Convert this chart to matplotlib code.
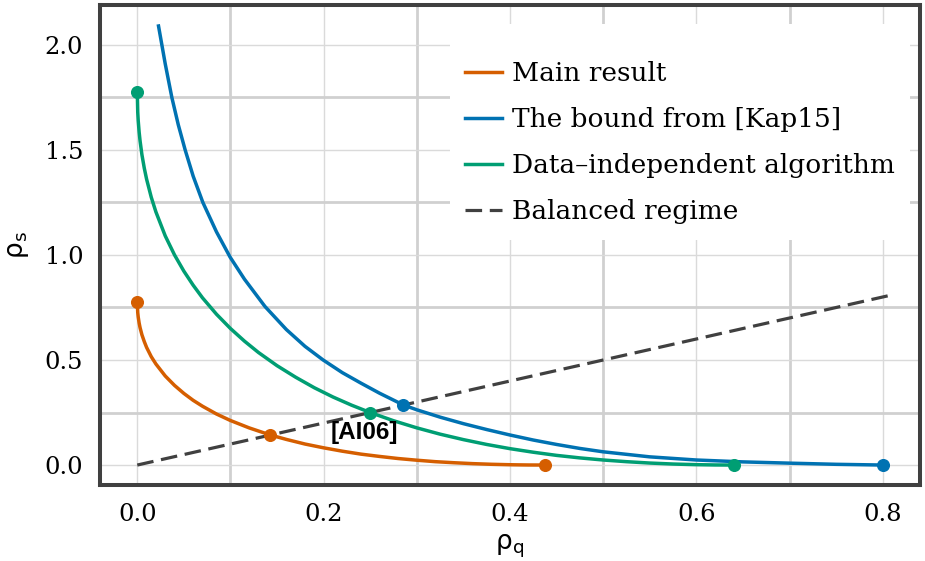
import matplotlib
matplotlib.use("Agg")
import matplotlib.pyplot as plt
from matplotlib.ticker import MultipleLocator

# values
main_q = [0.0, 0.0005, 0.001, 0.002, 0.003, 0.005, 0.0075, 0.01, 0.015, 0.02, 0.03, 0.04, 0.05, 0.06, 0.07, 0.085,
          0.1, 0.12, 0.1429, 0.16, 0.18, 0.2, 0.22, 0.24, 0.26, 0.28, 0.3, 0.32, 0.34, 0.36, 0.38, 0.4, 0.41, 0.42, 0.4375]
main_s = [0.778, 0.726, 0.705, 0.676, 0.654, 0.620, 0.588, 0.560, 0.516, 0.481, 0.424, 0.379, 0.341, 0.308, 0.280, 0.243,
          0.212, 0.177, 0.1429, 0.122, 0.100, 0.082, 0.066, 0.052, 0.041, 0.031, 0.023, 0.016, 0.011, 0.0067, 0.0036, 0.0015, 0.0008, 0.0003, 0.0]

kap_q = [0.0228, 0.03, 0.0371, 0.044, 0.0514, 0.06, 0.0704, 0.085, 0.0996, 0.115, 0.137, 0.16, 0.18, 0.1995, 0.22, 0.24, 0.26,
         0.2857, 0.3, 0.325, 0.35, 0.375, 0.4, 0.425, 0.45, 0.475, 0.5, 0.55, 0.6, 0.65, 0.7, 0.75, 0.8]
kap_s = [2.09, 1.91, 1.75, 1.62, 1.50, 1.375, 1.25, 1.11, 0.99, 0.885, 0.755, 0.645, 0.565, 0.50, 0.44, 0.39, 0.342,
         0.2857, 0.263, 0.228, 0.197, 0.169, 0.143, 0.119, 0.098, 0.079, 0.063, 0.039, 0.024, 0.015, 0.009, 0.0035, 0.0]

indep_q = [0.0, 0.0005, 0.001, 0.002, 0.003, 0.005, 0.0075, 0.01, 0.015, 0.02, 0.03, 0.04, 0.05, 0.06, 0.07, 0.085, 0.1,
           0.115, 0.13, 0.15, 0.17, 0.19, 0.21, 0.23, 0.25, 0.275, 0.3, 0.325, 0.35, 0.375, 0.4, 0.425, 0.45, 0.475, 0.5,
           0.525, 0.55, 0.575, 0.6, 0.62, 0.64]
indep_s = [1.778, 1.680, 1.640, 1.585, 1.543, 1.477, 1.414, 1.361, 1.275, 1.205, 1.091, 1.0, 0.923, 0.856, 0.796, 0.718, 0.650,
           0.590, 0.536, 0.473, 0.418, 0.368, 0.324, 0.285, 0.25, 0.211, 0.177, 0.147, 0.121, 0.098, 0.078, 0.061, 0.046, 0.034, 0.024,
           0.016, 0.0095, 0.0048, 0.0018, 0.0004, 0.0]

balanced = [0.0, 0.81]

main_pts_q = [0.0, 0.1429, 0.4375]
main_pts_s = [0.778, 0.1429, 0.0]
kap_pts_q = [0.2857, 0.8]
kap_pts_s = [0.2857, 0.0]
indep_pts_q = [0.0, 0.25, 0.64]
indep_pts_s = [1.778, 0.25, 0.0]

orange = "#d55e00"
blue = "#0072b2"
green = "#009e73"
dark = "#404040"

plt.rcParams['font.family'] = ['DejaVu Serif']
plt.rcParams['mathtext.fontset'] = 'dejavusans'

fig = plt.figure(figsize=(9.25, 5.61), dpi=100)
ax = fig.add_axes([100 / 925, 1 - 485 / 561, 820 / 925, 480 / 561])

ax.plot(balanced, balanced, color=dark, lw=2.3, dashes=(5.2, 2.4), label='Balanced regime', zorder=2)
ax.plot(main_q, main_s, color=orange, lw=2.5, label='Main result', zorder=3)
ax.plot(kap_q, kap_s, color=blue, lw=2.5, label='The bound from [Kap15]', zorder=3)
ax.plot(indep_q, indep_s, color=green, lw=2.5, label='Data–independent algorithm', zorder=3)

ax.plot(main_pts_q, main_pts_s, 'o', color=orange, ms=8.4, zorder=4)
ax.plot(kap_pts_q, kap_pts_s, 'o', color=blue, ms=8.4, zorder=4)
ax.plot(indep_pts_q, indep_pts_s, 'o', color=green, ms=8.4, zorder=4)

ax.text(0.244, 0.157, '[AI06]', family='Liberation Sans', weight='bold', fontsize=17.5,
        ha='center', va='center', zorder=5)

ax.set_xlim(-0.04, 0.84)
ax.set_ylim(-0.095, 2.19)
ax.xaxis.set_major_locator(MultipleLocator(0.2))
ax.xaxis.set_minor_locator(MultipleLocator(0.1))
ax.yaxis.set_major_locator(MultipleLocator(0.5))
ax.yaxis.set_minor_locator(MultipleLocator(0.25))
ax.set_axisbelow(True)
ax.grid(which='major', color='#dadada', lw=1.0)
ax.grid(which='minor', color='#d0d0d0', lw=2.0)
ax.tick_params(which='both', length=0, labelsize=17.5)
ax.tick_params(axis='x', pad=13)
ax.tick_params(axis='y', pad=12)
for s in ax.spines.values():
    s.set_color(dark)
    s.set_linewidth(2.9)

ax.set_xlabel('ρ$_\\mathrm{q}$', family='DejaVu Sans', fontsize=19, labelpad=5)
ax.set_ylabel('ρ$_\\mathrm{s}$', family='DejaVu Sans', fontsize=19, labelpad=10)

# legend order as in the picture; the tiny blank title only adds room on top
h, l = ax.get_legend_handles_labels()
order = [1, 2, 3, 0]
leg = ax.legend([h[i] for i in order], [l[i] for i in order], loc='upper right',
                bbox_to_anchor=(0.9878, 0.9604), borderaxespad=0, fontsize=19,
                title=' ', title_fontsize=1,
                frameon=True, fancybox=False, framealpha=1, facecolor='white', edgecolor='none',
                handlelength=1.4, handletextpad=0.38, labelspacing=0.80, borderpad=0.57)

plt.savefig('out.png', dpi=100)
